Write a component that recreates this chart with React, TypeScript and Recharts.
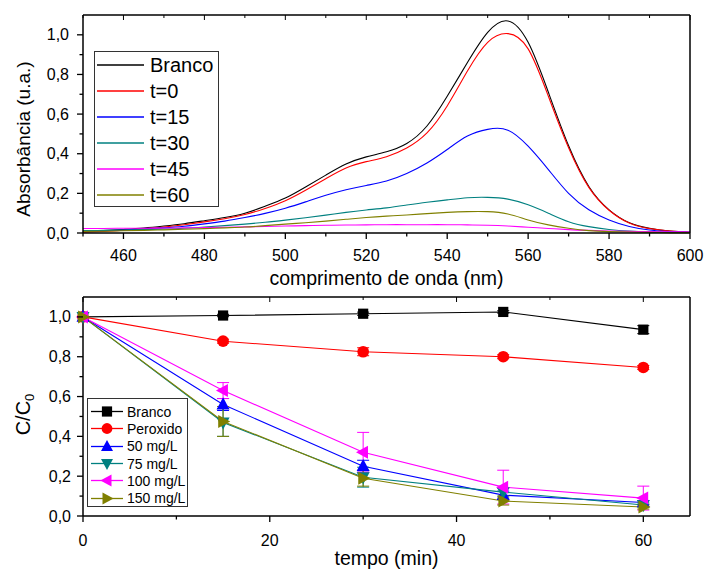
import React from 'react';
import { LineChart, Line, XAxis, YAxis, ErrorBar, Legend } from 'recharts';

const FONT = '"Liberation Sans", Arial, Helvetica, sans-serif';

// --- Espectros de absorção (nm) ---
const wavelength = [450, 455, 460, 465, 470, 475, 480, 485, 490, 495, 500, 505, 510, 515, 520, 525, 530, 535, 540, 545, 550, 555, 560, 565, 570, 575, 580, 585, 590, 595, 600];
const specBranco = [0.008, 0.012, 0.018, 0.025, 0.035, 0.047, 0.062, 0.078, 0.1, 0.135, 0.176, 0.232, 0.292, 0.348, 0.384, 0.41, 0.452, 0.54, 0.69, 0.86, 1.012, 1.07, 0.962, 0.71, 0.44, 0.235, 0.117, 0.052, 0.024, 0.01, 0.004];
const specT0 = [0.004, 0.008, 0.014, 0.021, 0.03, 0.042, 0.056, 0.072, 0.093, 0.124, 0.163, 0.216, 0.274, 0.328, 0.36, 0.385, 0.429, 0.505, 0.641, 0.817, 0.962, 1.006, 0.929, 0.69, 0.43, 0.23, 0.115, 0.05, 0.022, 0.01, 0.004];
const specT15 = [0.01, 0.012, 0.015, 0.02, 0.026, 0.034, 0.046, 0.06, 0.078, 0.099, 0.125, 0.157, 0.19, 0.218, 0.24, 0.262, 0.3, 0.353, 0.421, 0.489, 0.523, 0.519, 0.438, 0.32, 0.2, 0.117, 0.066, 0.033, 0.015, 0.007, 0.003];
const specT30 = [0.012, 0.013, 0.015, 0.017, 0.02, 0.024, 0.03, 0.037, 0.045, 0.054, 0.065, 0.077, 0.09, 0.104, 0.116, 0.127, 0.141, 0.155, 0.167, 0.178, 0.18, 0.171, 0.142, 0.1, 0.057, 0.032, 0.018, 0.01, 0.006, 0.004, 0.003];
const specT45 = [0.023, 0.023, 0.024, 0.024, 0.025, 0.026, 0.027, 0.029, 0.031, 0.033, 0.035, 0.037, 0.039, 0.04, 0.041, 0.042, 0.042, 0.042, 0.042, 0.041, 0.039, 0.035, 0.029, 0.023, 0.017, 0.013, 0.01, 0.008, 0.007, 0.006, 0.005];
const specT60 = [0.008, 0.009, 0.011, 0.013, 0.016, 0.019, 0.022, 0.026, 0.03, 0.037, 0.045, 0.052, 0.06, 0.069, 0.078, 0.085, 0.091, 0.098, 0.104, 0.108, 0.108, 0.096, 0.066, 0.041, 0.024, 0.012, 0.007, 0.005, 0.003, 0.002, 0.002];

// --- Cinética C/C0 (min) ---
const tempo = [0, 15, 30, 45, 60];
const kBranco = [1.0, 1.007, 1.016, 1.025, 0.936];
const kBrancoErr = [0, 0.006, 0.008, 0.006, 0.02];
const kPeroxido = [1.0, 0.878, 0.825, 0.8, 0.746];
const kPeroxidoErr = [0, 0.01, 0.02, 0.01, 0.01];
const k50 = [1.0, 0.56, 0.25, 0.105, 0.068];
const k50Err = [0, 0.03, 0.03, 0.02, 0.01];
const k75 = [1.0, 0.47, 0.195, 0.12, 0.055];
const k75Err = [0, 0.07, 0.05, 0.02, 0.01];
const k100 = [1.0, 0.63, 0.32, 0.145, 0.09];
const k100Err = [0, 0.04, 0.1, 0.085, 0.06];
const k150 = [1.0, 0.475, 0.19, 0.075, 0.045];
const k150Err = [0, 0.075, 0.04, 0.02, 0.01];

// ticks
const specXTicks = [450, 460, 470, 480, 490, 500, 510, 520, 530, 540, 550, 560, 570, 580, 590, 600];
const kinXTicks = [0, 10, 20, 30, 40, 50, 60];
const yTicks = [0, 0.1, 0.2, 0.3, 0.4, 0.5, 0.6, 0.7, 0.8, 0.9, 1.0];

const spectra = wavelength.map((w, i) => ({
  w,
  branco: specBranco[i],
  t0: specT0[i],
  t15: specT15[i],
  t30: specT30[i],
  t45: specT45[i],
  t60: specT60[i],
}));

const kinetics = tempo.map((t, i) => ({
  t,
  branco: kBranco[i],
  brancoErr: kBrancoErr[i],
  peroxido: kPeroxido[i],
  peroxidoErr: kPeroxidoErr[i],
  mg50: k50[i],
  mg50Err: k50Err[i],
  mg75: k75[i],
  mg75Err: k75Err[i],
  mg100: k100[i],
  mg100Err: k100Err[i],
  mg150: k150[i],
  mg150Err: k150Err[i],
}));

const specSeries = [
  { key: 'branco', name: 'Branco', color: '#000000' },
  { key: 't0', name: 't=0', color: '#ff0000' },
  { key: 't15', name: 't=15', color: '#0000ff' },
  { key: 't30', name: 't=30', color: '#008080' },
  { key: 't45', name: 't=45', color: '#ff00ff' },
  { key: 't60', name: 't=60', color: '#808000' },
];

type Shape = 'square' | 'circle' | 'up' | 'down' | 'left' | 'right';

const kinSeries: { key: string; name: string; color: string; shape: Shape }[] = [
  { key: 'branco', name: 'Branco', color: '#000000', shape: 'square' },
  { key: 'peroxido', name: 'Peroxido', color: '#ff0000', shape: 'circle' },
  { key: 'mg50', name: '50 mg/L', color: '#0000ff', shape: 'up' },
  { key: 'mg75', name: '75 mg/L', color: '#008080', shape: 'down' },
  { key: 'mg100', name: '100 mg/L', color: '#ff00ff', shape: 'left' },
  { key: 'mg150', name: '150 mg/L', color: '#808000', shape: 'right' },
];

function marker(shape: Shape, cx: number, cy: number, color: string, s: number, key?: string) {
  const h = s / 2;
  switch (shape) {
    case 'square':
      return <rect key={key} x={cx - h * 0.85} y={cy - h * 0.85} width={s * 0.85} height={s * 0.85} fill={color} />;
    case 'circle':
      return <circle key={key} cx={cx} cy={cy} r={h * 0.9} fill={color} />;
    case 'up':
      return <polygon key={key} points={`${cx},${cy - h * 1.1} ${cx - h},${cy + h * 0.75} ${cx + h},${cy + h * 0.75}`} fill={color} />;
    case 'down':
      return <polygon key={key} points={`${cx},${cy + h * 1.1} ${cx - h},${cy - h * 0.75} ${cx + h},${cy - h * 0.75}`} fill={color} />;
    case 'left':
      return <polygon key={key} points={`${cx - h * 1.1},${cy} ${cx + h * 0.75},${cy - h} ${cx + h * 0.75},${cy + h}`} fill={color} />;
    default:
      return <polygon key={key} points={`${cx + h * 1.1},${cy} ${cx - h * 0.75},${cy - h} ${cx - h * 0.75},${cy + h}`} fill={color} />;
  }
}

const fmtComma = (v: number) => v.toFixed(1).replace('.', ',');
const yMajor = (v: number) => Math.round(v * 10) % 2 === 0;

type Side = 'bottom' | 'left' | 'top' | 'right';

// tick with major/minor length, label only on majors
function makeTick(side: Side, isMajor: (v: number) => boolean, label: ((v: number) => string) | null, offset = 0) {
  return (props: any) => {
    const { x, y, payload } = props;
    const v = payload.value as number;
    const major = isMajor(v);
    const outLen = major ? 6 : 3.5;
    const inLen = major ? 5 : 3;
    let ln: React.ReactNode = null;
    let txt: React.ReactNode = null;
    if (side === 'bottom') {
      ln = <line x1={x} y1={y} x2={x} y2={y + outLen} stroke="#000" strokeWidth={1.3} />;
      if (label && major) txt = <text x={x} y={y + offset} textAnchor="middle" dominantBaseline="central" fontFamily={FONT} fontSize={16} fill="#000">{label(v)}</text>;
    } else if (side === 'left') {
      ln = <line x1={x} y1={y} x2={x - outLen} y2={y} stroke="#000" strokeWidth={1.3} />;
      if (label && major) txt = <text x={x - offset} y={y} textAnchor="end" dominantBaseline="central" fontFamily={FONT} fontSize={16} fill="#000">{label(v)}</text>;
    } else if (side === 'top') {
      ln = <line x1={x} y1={y} x2={x} y2={y + inLen} stroke="#000" strokeWidth={1} />;
    } else {
      ln = <line x1={x} y1={y} x2={x - inLen} y2={y} stroke="#000" strokeWidth={1} />;
    }
    return (
      <g>
        {ln}
        {txt}
      </g>
    );
  };
}

const axisLine = { stroke: '#000', strokeWidth: 1.5 };

function SpecLegend() {
  return (
    <div
      style={{
        width: 125,
        height: 156,
        border: '1px solid #333',
        background: '#fff',
        boxSizing: 'border-box',
        fontFamily: FONT,
        fontSize: 20,
      }}
    >
      {specSeries.map((s) => (
        <div key={s.key} style={{ height: 26, display: 'flex', alignItems: 'center' }}>
          <svg width={55} height={26}>
            <line x1={2} y1={13} x2={49} y2={13} stroke={s.color} strokeWidth={1.3} />
          </svg>
          <span style={{ lineHeight: '26px', color: '#000' }}>{s.name}</span>
        </div>
      ))}
    </div>
  );
}

function KinLegend() {
  return (
    <div
      style={{
        width: 101,
        height: 109,
        border: '1px solid #333',
        background: '#fff',
        boxSizing: 'border-box',
        fontFamily: FONT,
        fontSize: 14,
        paddingTop: 4,
      }}
    >
      {kinSeries.map((s) => (
        <div key={s.key} style={{ height: 17.3, display: 'flex', alignItems: 'center' }}>
          <svg width={39} height={17}>
            <line x1={3} y1={8.5} x2={35} y2={8.5} stroke={s.color} strokeWidth={1.3} />
            {marker(s.shape, 19, 8.5, s.color, 12)}
          </svg>
          <span style={{ color: '#000' }}>{s.name}</span>
        </div>
      ))}
    </div>
  );
}

export default function App() {
  return (
    <div style={{ position: 'absolute', left: 0, top: 0, width: 706, height: 569, background: '#fff' }}>
      <div style={{ position: 'absolute', left: 0, top: 0 }}>
        <LineChart width={706} height={290} data={spectra} margin={{ top: 14, right: 15, left: 0, bottom: 0 }}>
          <XAxis
            dataKey="w"
            type="number"
            domain={[450, 600]}
            ticks={specXTicks}
            interval={0}
            height={57}
            tickSize={0}
            tickMargin={0}
            tickLine={false}
            axisLine={axisLine}
            tick={makeTick('bottom', (v) => v % 20 === 0 && v !== 450, (v) => String(v), 22)}
            label={{
              content: (p: any) => (
                <text x={p.viewBox.x + p.viewBox.width / 2} y={p.viewBox.y + 45} textAnchor="middle" dominantBaseline="central" fontFamily={FONT} fontSize={19.5} fill="#000">
                  comprimento de onda (nm)
                </text>
              ),
            }}
          />
          <XAxis xAxisId="top" orientation="top" dataKey="w" type="number" domain={[450, 600]} ticks={specXTicks} interval={0} height={1} tickSize={0} tickMargin={0} tickLine={false} axisLine={axisLine} tick={makeTick('top', (v) => v % 20 === 0, null)} />
          <YAxis
            type="number"
            domain={[0, 1.1]}
            ticks={yTicks}
            interval={0}
            width={83}
            tickSize={0}
            tickMargin={0}
            tickLine={false}
            axisLine={axisLine}
            tick={makeTick('left', yMajor, fmtComma, 14)}
            label={{
              content: (p: any) => (
                <text transform={`translate(23, ${p.viewBox.y + p.viewBox.height / 2 + 15}) rotate(-90)`} textAnchor="middle" dominantBaseline="central" fontFamily={FONT} fontSize={19} fill="#000">
                  Absorbância (u.a.)
                </text>
              ),
            }}
          />
          <YAxis yAxisId="right" orientation="right" type="number" domain={[0, 1.1]} ticks={yTicks} interval={0} width={1} tickSize={0} tickMargin={0} tickLine={false} axisLine={axisLine} tick={makeTick('right', yMajor, null)} />
          <Legend layout="vertical" align="center" verticalAlign="middle" wrapperStyle={{ left: 94, top: 51, width: 125 }} content={() => <SpecLegend />} />
          {specSeries.map((s) => (
            <Line key={s.key} type="natural" dataKey={s.key} name={s.name} stroke={s.color} strokeWidth={1.1} dot={false} isAnimationActive={false} />
          ))}
        </LineChart>
      </div>
      <div style={{ position: 'absolute', left: 0, top: 290 }}>
        <LineChart width={706} height={279} data={kinetics} margin={{ top: 6, right: 15, left: 0, bottom: 0 }}>
          <XAxis
            dataKey="t"
            type="number"
            domain={[0, 65]}
            ticks={kinXTicks}
            interval={0}
            height={53}
            tickSize={0}
            tickMargin={0}
            tickLine={false}
            axisLine={axisLine}
            tick={makeTick('bottom', (v) => v % 20 === 0, (v) => String(v), 24)}
            label={{
              content: (p: any) => (
                <text x={p.viewBox.x + p.viewBox.width / 2} y={p.viewBox.y + 42} textAnchor="middle" dominantBaseline="central" fontFamily={FONT} fontSize={19.5} fill="#000">
                  tempo (min)
                </text>
              ),
            }}
          />
          <XAxis xAxisId="top" orientation="top" dataKey="t" type="number" domain={[0, 65]} ticks={kinXTicks} interval={0} height={1} tickSize={0} tickMargin={0} tickLine={false} axisLine={axisLine} tick={makeTick('top', (v) => v % 20 === 0, null)} />
          <YAxis
            type="number"
            domain={[0, 1.1]}
            ticks={yTicks}
            interval={0}
            width={83}
            tickSize={0}
            tickMargin={0}
            tickLine={false}
            axisLine={axisLine}
            tick={makeTick('left', yMajor, fmtComma, 12)}
            label={{
              content: (p: any) => (
                <text transform={`translate(23, ${p.viewBox.y + p.viewBox.height / 2 + 8}) rotate(-90)`} textAnchor="middle" dominantBaseline="central" fontFamily={FONT} fontSize={20} fill="#000">
                  C/C<tspan fontSize={13} dy={6}>0</tspan>
                </text>
              ),
            }}
          />
          <YAxis yAxisId="right" orientation="right" type="number" domain={[0, 1.1]} ticks={yTicks} interval={0} width={1} tickSize={0} tickMargin={0} tickLine={false} axisLine={axisLine} tick={makeTick('right', yMajor, null)} />
          <Legend layout="vertical" align="center" verticalAlign="middle" wrapperStyle={{ left: 87, top: 108, width: 101 }} content={() => <KinLegend />} />
          {kinSeries.map((s) => (
            <Line
              key={s.key}
              type="linear"
              dataKey={s.key}
              name={s.name}
              stroke={s.color}
              strokeWidth={1.1}
              isAnimationActive={false}
              dot={(p: any) => marker(s.shape, p.cx, p.cy, s.color, s.shape === 'square' ? 12 : 13, `${s.key}-${p.index}`)}
              activeDot={false}
            >
              <ErrorBar dataKey={`${s.key}Err`} direction="y" width={6} stroke={s.color} strokeWidth={1} isAnimationActive={false} />
            </Line>
          ))}
        </LineChart>
      </div>
    </div>
  );
}
